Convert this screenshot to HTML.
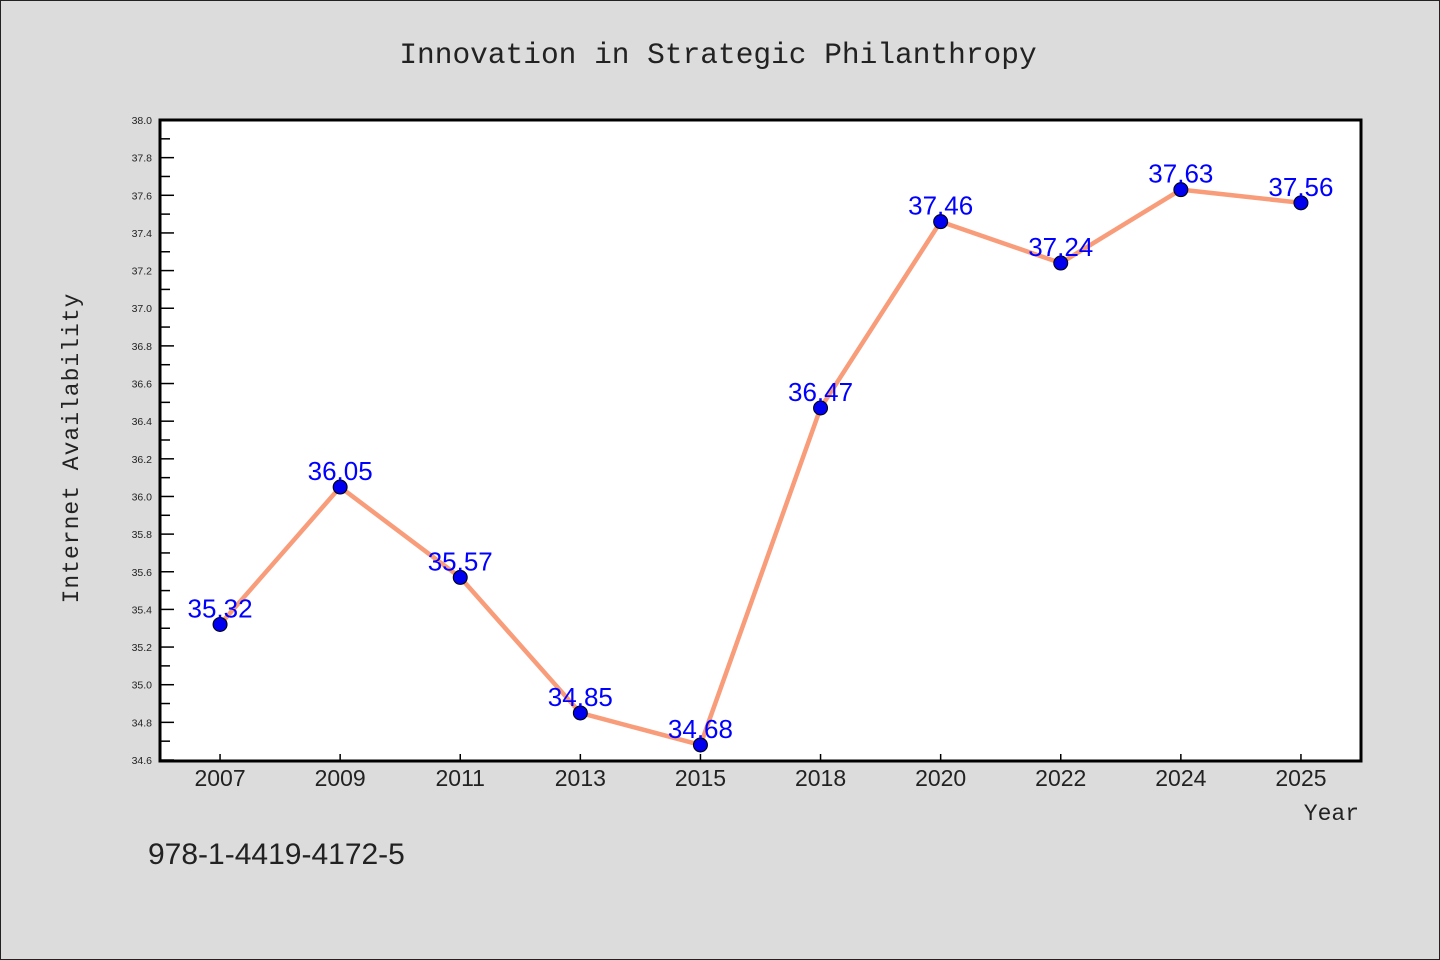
<!DOCTYPE html>
<html><head><meta charset="utf-8"><style>
html,body{margin:0;padding:0;background:#dcdcdc;}
svg{display:block;}
</style></head><body>
<svg id="chart" width="1440" height="960" xmlns="http://www.w3.org/2000/svg">
<rect x="0.5" y="0.5" width="1439" height="959" fill="#dcdcdc" stroke="#222"/>
<text x="718" y="63" text-anchor="middle" font-family="'Liberation Mono','DejaVu Sans Mono',monospace" font-size="29.5" fill="#222">Innovation in Strategic Philanthropy</text>
<rect x="160" y="120" width="1201" height="641" fill="#fff"/>
<g id="yticks"></g>
<g id="xticks"></g>
<polyline id="line" fill="none" stroke="#f89c7a" stroke-width="4.5" stroke-linejoin="round"/>
<g id="points"></g>
<g id="labels"></g>
<rect x="160" y="120" width="1201" height="641" fill="none" stroke="#000" stroke-width="3"/>
<text x="78" y="448" transform="rotate(-90 78 448)" text-anchor="middle" font-family="'Liberation Mono','DejaVu Sans Mono',monospace" font-size="23" fill="#222" letter-spacing="1">Internet Availability</text>
<text x="1359" y="820" text-anchor="end" font-family="'Liberation Mono','DejaVu Sans Mono',monospace" font-size="23" fill="#222">Year</text>
<text x="148" y="864" font-family="'Liberation Sans','DejaVu Sans',sans-serif" font-size="30" fill="#222">978-1-4419-4172-5</text>
</svg>
<script>
const categories = ["2007","2009","2011","2013","2015","2018","2020","2022","2024","2025"];
const values = [35.32,36.05,35.57,34.85,34.68,36.47,37.46,37.24,37.63,37.56];
const yTickLabels = ["34.6","34.8","35.0","35.2","35.4","35.6","35.8","36.0","36.2","36.4","36.6","36.8","37.0","37.2","37.4","37.6","37.8","38.0"];
const yMin = 34.6, yMax = 38.0;
const NS = "http://www.w3.org/2000/svg";
const L = 160, R = 1361, T = 120, B = 760;
function xScale(i){ return L + (R - L) / categories.length * (i + 0.5); }
function yScale(v){ return B - (v - yMin) / (yMax - yMin) * (B - T); }
function mk(tag, attrs, parent){ const e = document.createElementNS(NS, tag); for (const k in attrs) e.setAttribute(k, attrs[k]); parent.appendChild(e); return e; }
const yt = document.getElementById('yticks');
for (let k = 0; k < yTickLabels.length; k++) {
  const v = parseFloat(yTickLabels[k]);
  const y = yScale(v);
  const t = mk('line', {x1: L, x2: L + 14, y1: y, y2: y, stroke: '#000', 'stroke-width': 1.5}, yt);
  
  
  const lb = mk('text', {x: 152, y: y + 4, 'text-anchor': 'end', 'font-family': 'Liberation Sans, DejaVu Sans, sans-serif', 'font-size': 10.5, fill: '#222'}, yt);
  lb.textContent = yTickLabels[k];
  
  
  if (k < yTickLabels.length - 1) {
    const ym = yScale(v + 0.1);
    const m = mk('line', {x1: L, x2: L + 10, y1: ym, y2: ym, stroke: '#000', 'stroke-width': 1.5}, yt);
    
    
  }
}
const xt = document.getElementById('xticks');
categories.forEach((c, i) => {
  const x = xScale(i);
  const t = mk('line', {x1: x, x2: x, y1: B, y2: B - 6, stroke: '#000', 'stroke-width': 1.5}, xt);
  
  
  const lb = mk('text', {x: x, y: 786, 'text-anchor': 'middle', 'font-family': 'Liberation Sans, DejaVu Sans, sans-serif', 'font-size': 23, fill: '#222'}, xt);
  lb.textContent = c;
  
  
});
document.getElementById('line').setAttribute('points', values.map((v, i) => xScale(i) + ',' + yScale(v)).join(' '));
const pg = document.getElementById('points'), lg = document.getElementById('labels');
values.forEach((v, i) => {
  const p = mk('circle', {cx: xScale(i), cy: yScale(v), r: 7, fill: '#0000ee', stroke: '#000', 'stroke-width': 1}, pg);
  
  
  const t = mk('text', {x: xScale(i), y: yScale(v) - 7, 'text-anchor': 'middle', 'font-family': 'Liberation Sans, DejaVu Sans, sans-serif', 'font-size': 26, fill: '#0000ff'}, lg);
  t.textContent = v.toFixed(2);
  
  
});
</script>
</body></html>
